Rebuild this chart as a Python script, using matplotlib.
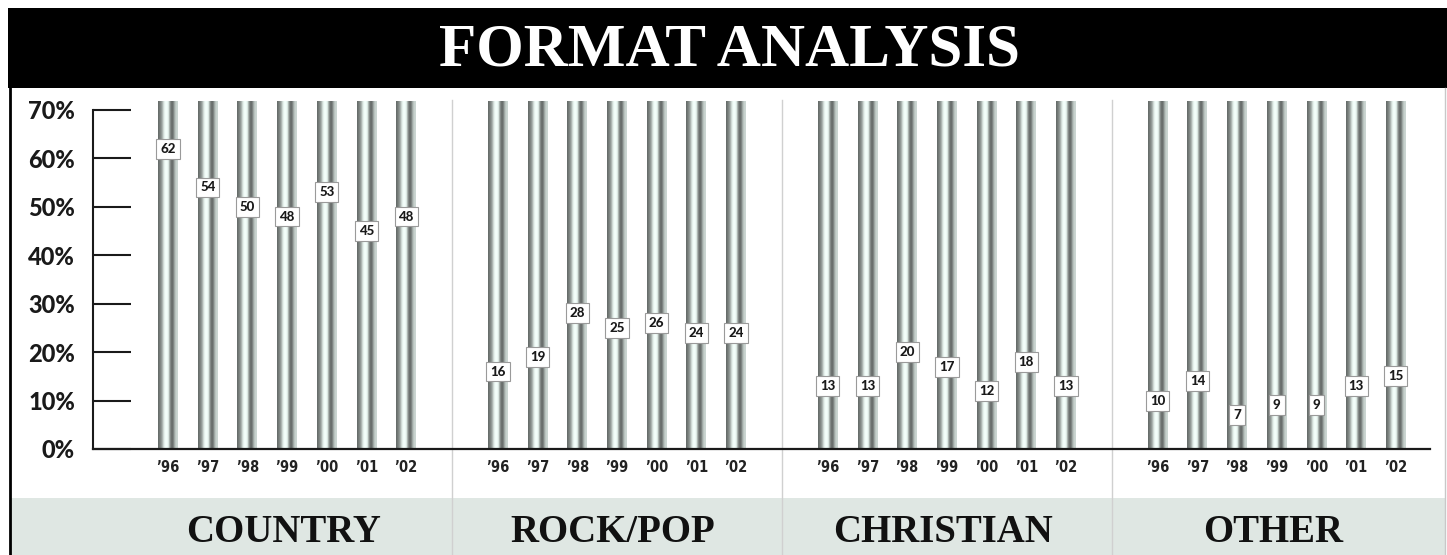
#!/usr/bin/env python
"""Format analysis: share of stations by format, 1996-2002."""

import matplotlib
matplotlib.use("Agg")
import matplotlib.pyplot as plt
from matplotlib.patches import Rectangle
from matplotlib.lines import Line2D
from matplotlib.transforms import blended_transform_factory
import numpy as np

years = ["\u201996", "\u201997", "\u201998", "\u201999", "\u201900", "\u201901", "\u201902"]
formats = ["COUNTRY", "ROCK/POP", "CHRISTIAN", "OTHER"]
country = [62, 54, 50, 48, 53, 45, 48]
rock_pop = [16, 19, 28, 25, 26, 24, 24]
christian = [13, 13, 20, 17, 12, 18, 13]
other = [10, 14, 7, 9, 9, 13, 15]
y_ticks = [0, 10, 20, 30, 40, 50, 60, 70]

W, H = 1447, 555
GROUP_STEP = 8.31
BAR_W = 0.5
BAR_TOP = 71.65

fig = plt.figure(figsize=(W / 100, H / 100), dpi=100)
fig.patch.set_facecolor("white")

# header band
fig.patches.append(Rectangle((8 / W, 1 - 88 / H), 1, 80 / H, transform=fig.transFigure,
                             facecolor="black", edgecolor="none", zorder=-2))
fig.text(730 / W, 1 - 50 / H, "FORMAT ANALYSIS", color="white", ha="center", va="center",
         family="Liberation Serif", weight="bold", fontsize=44)

# footer band behind the format names
fig.patches.append(Rectangle((11 / W, 0), 1434 / W, 57 / H, transform=fig.transFigure,
                             facecolor="#dfe7e3", edgecolor="none", zorder=-2))
fig.lines.append(Line2D([10 / W, 10 / W], [0, 1 - 88 / H], transform=fig.transFigure,
                        color="black", lw=2))
fig.lines.append(Line2D([1445 / W, 1445 / W], [0, 1 - 88 / H], transform=fig.transFigure,
                        color="#c8c8c8", lw=1))

ax = fig.add_axes([93 / W, 106 / H, 1337 / W, 72 * 4.843 / H])
ax.set_facecolor("none")
ax.set_xlim(-1.889, -1.889 + 1337 / 39.7)
ax.set_ylim(0, 72)

# cylinder shading across each bar
profile = np.array([0.42, 0.48, 0.55, 0.68, 0.85, 0.96, 0.99, 0.97, 0.88, 0.62,
                    0.45, 0.42, 0.52, 0.70, 0.80, 0.82])
tint = np.array([0.97, 1.02, 1.0])
shade = np.clip(profile[None, :, None] * tint[None, None, :], 0, 1)

series = [country, rock_pop, christian, other]
xs_all = []
for g, values in enumerate(series):
    for i, v in enumerate(values):
        x = g * GROUP_STEP + i
        xs_all.append(x)
        ax.imshow(shade, extent=[x - BAR_W / 2, x + BAR_W / 2, 0, BAR_TOP],
                  aspect="auto", interpolation="bilinear", zorder=2)
        ax.text(x, v, str(v), ha="center", va="center", fontsize=9.5, weight="black",
                family="Lato", color="#1a1a1a", zorder=4,
                bbox=dict(boxstyle="square,pad=0.3", facecolor="white",
                          edgecolor="#9a9a9a", lw=0.8))

# separators between formats and the format names below
trans = blended_transform_factory(ax.transData, ax.transAxes)
for g in range(len(series)):
    if g > 0:
        xm = ((g - 1) * GROUP_STEP + 6 + g * GROUP_STEP) / 2
        ax.plot([xm, xm], [-0.31, 1.0], transform=trans, color="#d0d0d0", lw=1,
                clip_on=False, zorder=1)
    ax.text(g * GROUP_STEP + 2.9, -0.24, formats[g], transform=trans, ha="center",
            va="center", family="Liberation Serif", weight="bold", fontsize=28,
            color="#111111", clip_on=False)

ax.set_xticks(xs_all)
ax.set_xticklabels(years * len(series), family="DejaVu Sans", stretch="condensed",
                   weight="bold", fontsize=10.5, color="#222222")
ax.tick_params(axis="x", length=0, pad=8)

ax.set_yticks(y_ticks)
ax.set_yticklabels([f"{t}%" for t in y_ticks], family="Lato", weight="black",
                   fontsize=17, color="#1a1a1a")
ax.tick_params(axis="y", direction="in", length=27.4, width=1.5, pad=13, color="#1a1a1a")

for side in ["top", "right"]:
    ax.spines[side].set_visible(False)
ax.spines["left"].set_bounds(0, 70)
ax.spines["left"].set_linewidth(1.5)
ax.spines["bottom"].set_linewidth(1.6)
ax.spines["left"].set_color("#1a1a1a")
ax.spines["bottom"].set_color("#1a1a1a")

fig.savefig("out.png", dpi=100)
